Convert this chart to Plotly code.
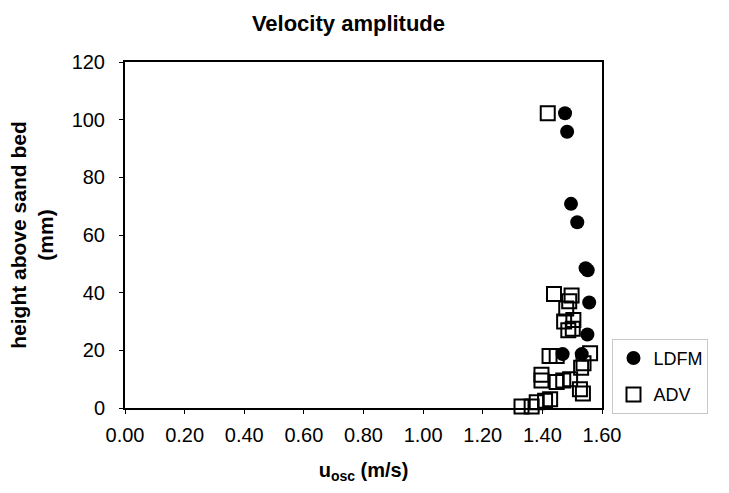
import plotly.graph_objects as go

# LDFM (filled circles)
ldfm_u = [1.476, 1.483, 1.496, 1.517, 1.545, 1.552, 1.557, 1.551, 1.468, 1.532]
ldfm_h = [102.2, 95.8, 70.8, 64.4, 48.5, 47.8, 36.6, 25.5, 18.7, 18.7]

# ADV (open squares)
adv_u = [1.418, 1.439, 1.498, 1.490, 1.480, 1.473, 1.504, 1.502, 1.487,
         1.424, 1.448, 1.560, 1.538, 1.530, 1.397, 1.397, 1.448, 1.470,
         1.493, 1.526, 1.536, 1.426, 1.409, 1.381, 1.330, 1.364]
adv_h = [102.2, 39.5, 39.0, 37.0, 34.5, 30.0, 30.5, 27.5, 27.0,
         18.0, 18.0, 19.0, 15.5, 14.0, 11.5, 9.5, 9.0, 9.5,
         10.0, 6.5, 5.0, 3.0, 2.5, 2.0, 0.5, 0.5]

x_ticks = [0.0, 0.2, 0.4, 0.6, 0.8, 1.0, 1.2, 1.4, 1.6]
y_ticks = [0, 20, 40, 60, 80, 100, 120]

FONT = "Liberation Sans, Arial, sans-serif"

fig = go.Figure()
fig.add_trace(go.Scatter(
    x=ldfm_u, y=ldfm_h, mode="markers", name="LDFM", legendgroup="a",
    marker=dict(symbol="circle", size=14, color="black"),
    cliponaxis=False,
))
fig.add_trace(go.Scatter(
    x=adv_u, y=adv_h, mode="markers", name="ADV", legendgroup="b",
    marker=dict(symbol="square-open", size=14, color="black", line=dict(width=2)),
    cliponaxis=False,
))

fig.update_layout(
    width=729, height=493,
    margin=dict(l=125, r=127, t=62, b=85),
    paper_bgcolor="white", plot_bgcolor="white",
    font=dict(family=FONT, color="black"),
    title=dict(text="<b>Velocity amplitude</b>", x=0.478, xanchor="center",
               y=0.952, yanchor="middle", font=dict(size=22, family=FONT)),
    legend=dict(x=1.022, xanchor="left", y=0.2, yanchor="top",
                bordercolor="#c8c8c8", borderwidth=1, bgcolor="white",
                font=dict(size=18, family=FONT),
                traceorder="grouped", tracegroupgap=10,
                itemsizing="trace"),
    showlegend=True,
)
fig.update_xaxes(
    range=[0, 1.6], tickvals=x_ticks, tickformat=".2f",
    showgrid=False, zeroline=False,
    showline=True, linecolor="black", linewidth=2, mirror=True,
    ticks="outside", ticklen=4, tickcolor="black",
    tickfont=dict(size=20, family=FONT), ticklabelstandoff=4,
    title=dict(text="<b>u<sub>osc</sub> (m/s)</b>", font=dict(size=20, family=FONT), standoff=18),
)
fig.update_yaxes(
    range=[0, 120], tickvals=y_ticks,
    showgrid=False, zeroline=False,
    showline=True, linecolor="black", linewidth=2, mirror=True,
    ticks="outside", ticklen=4, tickcolor="black",
    tickfont=dict(size=20, family=FONT), ticklabelstandoff=10,
    title=dict(text="<b>height above sand bed<br>(mm)</b>", font=dict(size=21, family=FONT), standoff=12),
)

fig.write_html("out.html")
